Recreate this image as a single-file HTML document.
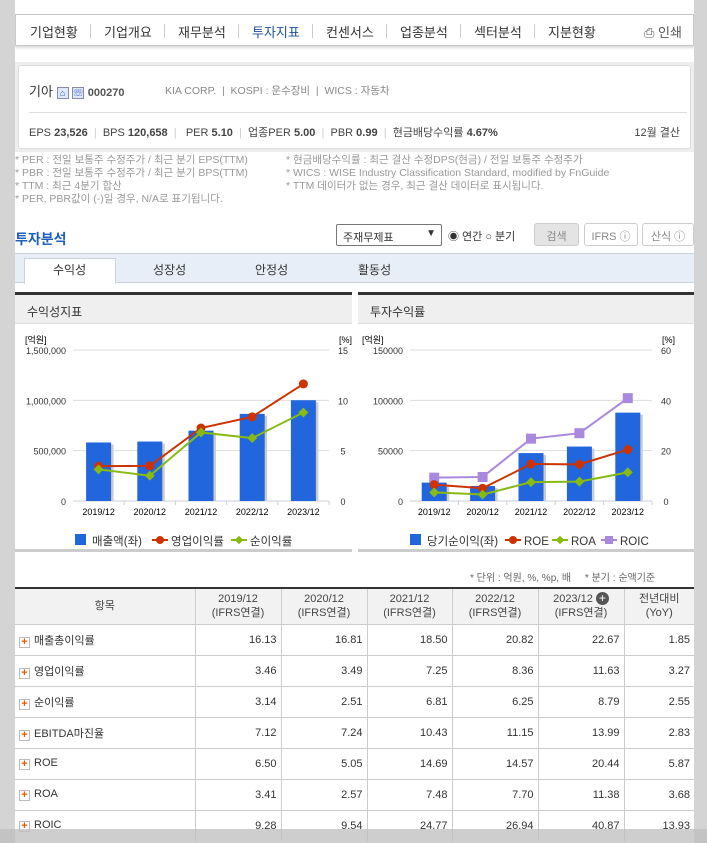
<!DOCTYPE html>
<html><head><meta charset="utf-8">
<style>
*{margin:0;padding:0;box-sizing:border-box}
body{width:707px;height:843px;background:#d4d4d4;font-family:"Liberation Sans","Noto Sans CJK KR",sans-serif;color:#333;position:relative;overflow:hidden}
.abs{position:absolute}
#page{position:absolute;left:15px;top:0;width:679px;height:843px;background:#fff}
.nav{position:absolute;left:15px;top:14px;width:679px;height:32px;border:1px solid #c8c8c8;background:#fff;box-shadow:0 2px 2px #ddd}
.nav span{position:absolute;top:7px;font-size:13px;color:#333}
.nav i{position:absolute;top:9px;width:1px;height:14px;background:#ccc}
.info{position:absolute;left:15px;top:62px;width:679px;height:90px;background:#eee;padding:3px}
.info .in{position:relative;background:#fff;border:1px solid #ddd;height:84px;border-radius:3px}
.notes{position:absolute;font-size:10.5px;color:#999;line-height:13px}
.tabs{position:absolute;left:15px;top:253px;width:679px;height:30px;background:#e8eef7;border-top:1px solid #c9d3e3;border-bottom:1px solid #c9d3e3}
.tabs span{position:absolute;top:7px;font-size:12px;color:#333}
.ph{position:absolute;top:292px;height:32px;background:#efefef;border-top:3px solid #333;border-bottom:1px solid #ddd;font-size:12px;padding:8px 0 0 12px}
table{position:absolute;left:15px;top:587px;width:679px;border-collapse:collapse;font-size:11px}
th{background:#f2f2f2;font-weight:normal;height:36px;border-left:1px solid #ccc;line-height:14px;color:#444}
td{height:31px;border-top:1px solid #ccc;border-left:1px solid #ccc;text-align:right;padding-right:4px}
td:first-child,th:first-child{border-left:none}
td:first-child{text-align:left;padding-left:4px}
.pl{display:inline-block;width:11px;height:11px;border:1px solid #bbb;color:#e85a00;font-size:11px;line-height:8px;text-align:center;margin-right:4px;vertical-align:-1px;font-weight:bold}
</style></head><body>
<div id="page"></div>
<div class="nav">
<span style="left:14px">기업현황</span><i style="left:74px"></i>
<span style="left:88px">기업개요</span><i style="left:148px"></i>
<span style="left:162px">재무분석</span><i style="left:222px"></i>
<span style="left:236px;color:#1c4f9c">투자지표</span><i style="left:296px"></i>
<span style="left:310px">컨센서스</span><i style="left:370px"></i>
<span style="left:384px">업종분석</span><i style="left:444px"></i>
<span style="left:458px">섹터분석</span><i style="left:518px"></i>
<span style="left:532px">지분현황</span>
<span style="left:628px;color:#555">⎙ 인쇄</span>
</div>
<div class="info"><div class="in">
<div class="abs" style="left:10px;top:15px;font-size:13px">기아 <span style="display:inline-block;width:12px;height:12px;border:1px solid #88a;background:#dfe8f8;font-size:9px;color:#2255bb;text-align:center;line-height:10px">⌂</span> <span style="display:inline-block;width:12px;height:12px;border:1px solid #88a;background:#dfe8f8;font-size:9px;color:#2255bb;text-align:center;line-height:10px">☏</span> <b style="font-size:11px;color:#555">000270</b></div>
<div class="abs" style="left:146px;top:17px;font-size:10.5px;color:#888">KIA CORP. &nbsp;| &nbsp;KOSPI : 운수장비 &nbsp;| &nbsp;WICS : 자동차</div>
<div class="abs" style="left:10px;top:46px;width:658px;height:1px;background:#ddd"></div>
<div class="abs" style="left:10px;top:58px;font-size:11px;color:#444">EPS <b>23,526</b> <span style="color:#ccc">&nbsp;|&nbsp;</span> BPS <b>120,658</b> <span style="color:#ccc">&nbsp;|&nbsp;</span> &nbsp;PER <b>5.10</b> <span style="color:#ccc">&nbsp;|&nbsp;</span> 업종PER <b>5.00</b> <span style="color:#ccc">&nbsp;|&nbsp;</span> PBR <b>0.99</b> <span style="color:#ccc">&nbsp;|&nbsp;</span> 현금배당수익률 <b>4.67%</b></div>
<div class="abs" style="right:10px;top:58px;font-size:11px;color:#444">12월 결산</div>
</div></div>
<div class="notes" style="left:15px;top:154px">* PER : 전일 보통주 수정주가 / 최근 분기 EPS(TTM)<br>* PBR : 전일 보통주 수정주가 / 최근 분기 BPS(TTM)<br>* TTM : 최근 4분기 합산<br>* PER, PBR값이 (-)일 경우, N/A로 표기됩니다.</div>
<div class="notes" style="left:286px;top:154px">* 현금배당수익률 : 최근 결산 수정DPS(현금) / 전일 보통주 수정주가<br>* WICS : WISE Industry Classification Standard, modified by FnGuide<br>* TTM 데이터가 없는 경우, 최근 결산 데이터로 표시됩니다.</div>
<div class="abs" style="left:15px;top:229px;font-size:14px;color:#1f5fbf;font-weight:bold">투자분석</div>
<div class="abs" style="left:336px;top:224px;width:106px;height:22px;border:1px solid #777;border-radius:2px;font-size:11px;padding:4px 6px">주재무제표 <span style="position:absolute;right:5px;top:3px;font-size:10px">▼</span></div>
<div class="abs" style="left:448px;top:228px;font-size:11px">◉ 연간 ○ 분기</div>
<div class="abs" style="left:534px;top:223px;width:45px;height:23px;background:#e4e4e4;border:1px solid #ccc;border-radius:3px;font-size:11px;color:#888;text-align:center;padding-top:4px">검색</div>
<div class="abs" style="left:584px;top:223px;width:54px;height:23px;border:1px solid #ccc;border-radius:3px;font-size:11px;color:#888;text-align:center;padding-top:4px">IFRS ⓘ</div>
<div class="abs" style="left:642px;top:223px;width:52px;height:23px;border:1px solid #ccc;border-radius:3px;font-size:11px;color:#888;text-align:center;padding-top:4px">산식 ⓘ</div>
<div class="tabs">
<div class="abs" style="left:9px;top:4px;width:92px;height:26px;background:#fff;border:1px solid #c9d3e3;border-bottom:none"></div>
<span style="left:38px">수익성</span>
<span style="left:138px">성장성</span>
<span style="left:240px">안정성</span>
<span style="left:343px">활동성</span>
</div>
<div class="ph" style="left:15px;width:337px">수익성지표</div>
<div class="ph" style="left:358px;width:336px">투자수익률</div>
<div class="abs" style="left:15px;top:549px;width:337px;height:3px;background:#ccc"></div>
<div class="abs" style="left:358px;top:549px;width:336px;height:3px;background:#ccc"></div>
<svg class="abs" style="left:0;top:0" width="707" height="843" id="charts"></svg>
<div class="abs" style="left:470px;top:569px;font-size:10px;color:#666">* 단위 : 억원, %, %p, 배 &nbsp;&nbsp;&nbsp; * 분기 : 순액기준</div>
<table>
<tr style="border-top:2px solid #333;border-bottom:1px solid #ccc"><th style="width:180px">항목</th><th style="width:86px">2019/12<br>(IFRS연결)</th><th style="width:86px">2020/12<br>(IFRS연결)</th><th style="width:85px">2021/12<br>(IFRS연결)</th><th style="width:86px">2022/12<br>(IFRS연결)</th><th style="width:86px">2023/12 <span style="display:inline-block;width:13px;height:13px;border-radius:50%;background:#555;color:#fff;font-size:12px;line-height:13px">+</span><br>(IFRS연결)</th><th>전년대비<br>(YoY)</th></tr>
<tbody id="tb"></tbody>
</table>
<div class="abs" style="left:0;top:829px;width:707px;height:14px;background:rgba(190,190,190,0.75)"></div>
<script>
const years=["2019/12","2020/12","2021/12","2022/12","2023/12"];
const sales=[581460,590681,698624,865590,1001092];
const opMargin=[3.46,3.49,7.25,8.36,11.63];
const netMargin=[3.14,2.51,6.81,6.25,8.79];
const netIncome=[18267,14875,47603,54094,87778];
const roe=[6.50,5.05,14.69,14.57,20.44];
const roa=[3.41,2.57,7.48,7.70,11.38];
const roic=[9.28,9.54,24.77,26.94,40.87];
const leftTicks=["0","500,000","1,000,000","1,500,000"];
const leftRTicks=["0","5","10","15"];
const rightTicks=["0","50000","100000","150000"];
const rightRTicks=["0","20","40","60"];
const rowNames=["매출총이익률","영업이익률","순이익률","EBITDA마진율","ROE","ROA","ROIC"];
const rowVals=[[16.13,16.81,18.50,20.82,22.67,1.85],[3.46,3.49,7.25,8.36,11.63,3.27],[3.14,2.51,6.81,6.25,8.79,2.55],[7.12,7.24,10.43,11.15,13.99,2.83],[6.50,5.05,14.69,14.57,20.44,5.87],[3.41,2.57,7.48,7.70,11.38,3.68],[9.28,9.54,24.77,26.94,40.87,13.93]];
const NS="http://www.w3.org/2000/svg";
const svg=document.getElementById('charts');
function mk(t,a,txt){const e=document.createElementNS(NS,t);for(const k in a)e.setAttribute(k,a[k]);if(txt!==undefined)e.textContent=txt;svg.appendChild(e);return e;}
function chart(x0,x1,lmax,rmax,lt,rt,bars,lines,legend,lx){
 const y0=501,y1=350;
 const ly=v=>y0-(v/lmax)*(y0-y1), ry=v=>y0-(v/rmax)*(y0-y1);
 const cw=(x1-x0)/years.length, cx=i=>x0+cw*(i+0.5);
 lt.forEach((t,i)=>{const y=y0-(y0-y1)*i/(lt.length-1);
  if(i>0){let g=mk('line',{x1:x0,x2:x1,y1:y,y2:y,stroke:'#ddd'});}
  let a=mk('text',{x:x0-7,y:y+4,'text-anchor':'end','font-size':9,fill:'#333'},t);
  let b=mk('text',{x:x1+14,y:y+4,'text-anchor':'middle','font-size':9,fill:'#333'},rt[i]);});
 mk('text',{x:x0-48,y:343,'font-size':9},'[억원]');mk('text',{x:x1+10,y:343,'font-size':9},'[%]');
 mk('line',{x1:x0,x2:x1,y1:y0,y2:y0,stroke:'#c8d0dc'});
 years.forEach((yr,i)=>{let t=mk('text',{x:cx(i),y:515,'text-anchor':'middle','font-size':9},yr);
  mk('line',{x1:x0+cw*(i+1),x2:x0+cw*(i+1),y1:y0,y2:y0+4,stroke:'#c8d0dc'});});
 bars.forEach((v,i)=>{mk('rect',{x:cx(i)-12+2,y:ly(v)+2,width:25,height:y0-ly(v)-2,fill:'#ccc'});
  let r=mk('rect',{x:cx(i)-12.5,y:ly(v),width:25,height:y0-ly(v),fill:'#2266dd'});});
 lines.forEach(L=>{const pts=L.d.map((v,i)=>cx(i)+','+ry(v)).join(' ');
  let p=mk('polyline',{points:pts,fill:'none',stroke:L.c,'stroke-width':2});
  L.d.forEach((v,i)=>{let m;
   if(L.s=='c')m=mk('circle',{cx:cx(i),cy:ry(v),r:4.5,fill:L.c});
   else if(L.s=='d')m=mk('rect',{x:cx(i)-3.5,y:ry(v)-3.5,width:7,height:7,fill:L.c,transform:`rotate(45 ${cx(i)} ${ry(v)})`});
   else m=mk('rect',{x:cx(i)-5,y:ry(v)-5,width:10,height:10,fill:L.c});
   });});
 let x=lx;
 legend.forEach(g=>{
  if(g.s=='b')mk('rect',{x:x,y:534,width:11,height:11,fill:'#2266dd'});
  else{mk('line',{x1:x-2,x2:x+14,y1:540,y2:540,stroke:g.c,'stroke-width':2});
   if(g.s=='c')mk('circle',{cx:x+6,cy:540,r:4,fill:g.c});
   else if(g.s=='d')mk('rect',{x:x+3,y:537,width:6,height:6,fill:g.c,transform:`rotate(45 ${x+6} 540)`});
   else mk('rect',{x:x+2,y:536,width:8,height:8,fill:g.c});}
  let t=mk('text',{x:x+17,y:545,'font-size':11.5,fill:'#333'},g.t);
  x+=17+g.w;});
}
chart(73,329,1500000,15,leftTicks,leftRTicks,sales,
 [{d:opMargin,c:'#cc3300',s:'c',n:'operating-margin'},{d:netMargin,c:'#88bb11',s:'d',n:'net-margin'}],
 [{s:'b',t:'매출액(좌)',w:62},{s:'c',c:'#cc3300',t:'영업이익률',w:62},{s:'d',c:'#88bb11',t:'순이익률',w:50}],75);
chart(410,652,150000,60,rightTicks,rightRTicks,netIncome,
 [{d:roic,c:'#aa88dd',s:'s',n:'roic'},{d:roe,c:'#cc3300',s:'c',n:'roe'},{d:roa,c:'#88bb11',s:'d',n:'roa'}],
 [{s:'b',t:'당기순이익(좌)',w:80},{s:'c',c:'#cc3300',t:'ROE',w:30},{s:'d',c:'#88bb11',t:'ROA',w:32},{s:'s',c:'#aa88dd',t:'ROIC',w:30}],410);
const tb=document.getElementById('tb');
rowNames.forEach((n,i)=>{const tr=document.createElement('tr');
 
 
 tr.innerHTML='<td><span class="pl">+</span>'+n+'</td>'+rowVals[i].map(v=>'<td>'+v.toFixed(2)+'</td>').join('');
 tb.appendChild(tr);});
</script>
</body></html>
